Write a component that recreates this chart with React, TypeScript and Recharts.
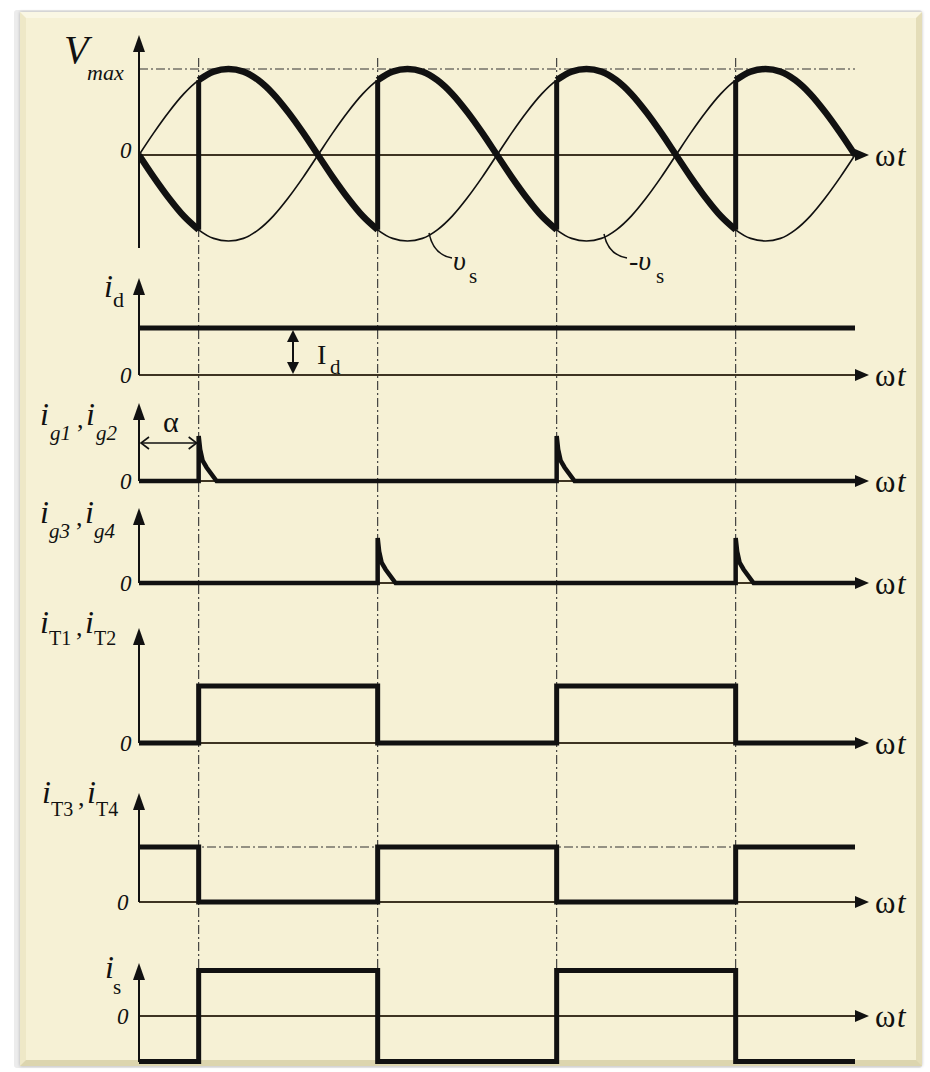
import React from 'react';
import { LineChart, Line, XAxis, YAxis, ReferenceLine } from 'recharts';

// ---- waveform samples (electrical degrees, two supply cycles) ----
const DEG = [
  0, 15, 30, 45, 60, 75, 90, 105, 120, 135, 150, 165, 180, 195, 210, 225, 240, 255, 270, 285, 300, 315, 330, 345,
  360, 375, 390, 405, 420, 435, 450, 465, 480, 495, 510, 525, 540, 555, 570, 585, 600, 615, 630, 645, 660, 675, 690, 705, 720,
];
const VS = [
  0, 0.26, 0.5, 0.71, 0.87, 0.97, 1, 0.97, 0.87, 0.71, 0.5, 0.26, 0, -0.26, -0.5, -0.71, -0.87, -0.97, -1, -0.97, -0.87, -0.71, -0.5, -0.26,
  0, 0.26, 0.5, 0.71, 0.87, 0.97, 1, 0.97, 0.87, 0.71, 0.5, 0.26, 0, -0.26, -0.5, -0.71, -0.87, -0.97, -1, -0.97, -0.87, -0.71, -0.5, -0.26, 0,
];
const NEG_VS = [
  0, -0.26, -0.5, -0.71, -0.87, -0.97, -1, -0.97, -0.87, -0.71, -0.5, -0.26, 0, 0.26, 0.5, 0.71, 0.87, 0.97, 1, 0.97, 0.87, 0.71, 0.5, 0.26,
  0, -0.26, -0.5, -0.71, -0.87, -0.97, -1, -0.97, -0.87, -0.71, -0.5, -0.26, 0, 0.26, 0.5, 0.71, 0.87, 0.97, 1, 0.97, 0.87, 0.71, 0.5, 0.26, 0,
];

// conduction intervals (firing angle alpha = 60°)
const T12_ON = [[60, 240], [420, 600]];
const T34_ON = [[0, 60], [240, 420], [600, 720]];
const COMMUTATIONS = [60, 240, 420, 600];

// gate pulses
const G12_FIRE = [60, 420];
const G34_FIRE = [240, 600];
const PULSE_DT = [0, 0, 1.5, 4, 8, 18];
const PULSE_V = [0, 1, 0.7, 0.45, 0.3, 0];

// step currents, per unit
const EDGES = [0, 60, 240, 420, 600, 720];
const I_T12 = [0, 1, 0, 1, 0, 0];
const I_T34 = [1, 0, 1, 0, 1, 1];
const I_S = [-1, 1, -1, 1, -1, -1];
const I_D = [1, 1];
const I_D_EDGES = [0, 720];

// ---- layout ----
const W = 930;
const H = 1072;
const X_LEFT = 139;
const X_RIGHT = 855;

type Panel = { id: string; zero: number; scale: number; tip: number; bottom: number };
const PANELS: Panel[] = [
  { id: 'v', zero: 155, scale: 86, tip: 35, bottom: 248 },
  { id: 'id', zero: 375, scale: 47, tip: 278, bottom: 375 },
  { id: 'g12', zero: 481, scale: 45, tip: 403, bottom: 481 },
  { id: 'g34', zero: 583, scale: 45, tip: 508, bottom: 583 },
  { id: 't12', zero: 743, scale: 57, tip: 628, bottom: 743 },
  { id: 't34', zero: 902, scale: 55, tip: 793, bottom: 902 },
  { id: 'is', zero: 1016, scale: 45.5, tip: 963, bottom: 1062 },
];
const panel = (id: string) => PANELS.find((p) => p.id === id)!;
const unitsAt = (p: Panel, px: number) => (p.zero - px) / p.scale;
const domainOf = (p: Panel): [number, number] => [(p.zero - H) / p.scale, p.zero / p.scale];

const inside = (d: number, spans: number[][]) => spans.some(([a, b]) => d >= a && d <= b);

const sineRows = DEG.map((d, i) => ({
  deg: d,
  vs: VS[i],
  nvs: NEG_VS[i],
  voA: inside(d, T12_ON) ? VS[i] : null,
  voB: inside(d, T34_ON) ? NEG_VS[i] : null,
}));

const jumps = COMMUTATIONS.map((e) => {
  const r = sineRows.find((row) => row.deg === e)!;
  const lowFirst = G12_FIRE.includes(e);
  return lowFirst
    ? [{ deg: e, v: r.voB }, { deg: e, v: r.voA }]
    : [{ deg: e, v: r.voA }, { deg: e, v: r.voB }];
});

const steps = (edges: number[], vals: number[]) => edges.map((d, i) => ({ deg: d, v: vals[i] }));

const gateSeries = (fires: number[]) => [
  { deg: 0, v: 0 },
  ...fires.flatMap((f) => PULSE_DT.map((dt, i) => ({ deg: f + dt, v: PULSE_V[i] }))),
  { deg: 720, v: 0 },
];

const INK = '#111';
const AXIS = '#3e3422';
const DASHDOT = '9 3 2 3';
const SERIF = "'Liberation Serif', 'DejaVu Serif', 'Noto Serif', serif";
const PX_PER_DEG = (X_RIGHT - X_LEFT) / 720;
const xPx = (deg: number) => X_LEFT + deg * PX_PER_DEG;

const T: React.FC<{ x: number; y: number; size: number; italic?: boolean; children: React.ReactNode }> = ({ x, y, size, italic, children }) => (
  <text x={x} y={y} style={{ fontFamily: SERIF, fontSize: size, fontStyle: italic ? 'italic' : 'normal' }} fill={INK}>
    {children}
  </text>
);

const thin = { dot: false, activeDot: false, isAnimationActive: false, stroke: INK } as const;

const App: React.FC = () => {
  const vP = panel('v');
  return (
    <div style={{ position: 'absolute', left: 0, top: 0, width: W, height: H, background: '#fff', overflow: 'hidden' }}>
      {/* framed cream panel */}
      <div
        style={{
          position: 'absolute', left: 14, top: 10, width: 908, height: 1058,
          background: '#ececec', borderRadius: 3,
        }}
      />
      <div
        style={{
          position: 'absolute', left: 20, top: 12, width: 890, height: 1042,
          background: '#f6f1d5',
          borderTop: '6px solid #faf7e4', borderLeft: '6px solid #eee8c7',
          borderRight: '6px solid #e4ddb8', borderBottom: '6px solid #dcd5ae',
          boxShadow: '0 0 3px rgba(0,0,0,0.25)',
        }}
      />

      <div style={{ position: 'absolute', left: 0, top: 0 }}>
        <LineChart width={W} height={H} margin={{ top: 0, right: W - X_RIGHT, bottom: 0, left: X_LEFT }}>
          <XAxis type="number" dataKey="deg" domain={[0, 720]} allowDataOverflow hide />
          {PANELS.map((p) => (
            <YAxis key={p.id} yAxisId={p.id} type="number" domain={domainOf(p)} allowDataOverflow hide />
          ))}

          {/* alpha markers */}
          {COMMUTATIONS.map((e) => (
            <ReferenceLine
              key={`a${e}`}
              yAxisId="v"
              segment={[{ x: e, y: unitsAt(vP, 58) }, { x: e, y: unitsAt(vP, 971) }]}
              stroke="#333"
              strokeWidth={1.1}
              strokeDasharray={DASHDOT}
            />
          ))}

          {/* Vmax and iT3,iT4 level guides */}
          <ReferenceLine yAxisId="v" segment={[{ x: 0, y: 1 }, { x: 720, y: 1 }]} stroke="#333" strokeWidth={1.1} strokeDasharray={DASHDOT} />
          <ReferenceLine yAxisId="t34" segment={[{ x: 0, y: 1 }, { x: 720, y: 1 }]} stroke="#333" strokeWidth={1.1} strokeDasharray={DASHDOT} />

          {/* time axes and vertical axes */}
          {PANELS.map((p) => (
            <ReferenceLine key={`z${p.id}`} yAxisId={p.id} y={0} stroke={AXIS} strokeWidth={2} />
          ))}
          {PANELS.map((p) => (
            <ReferenceLine
              key={`y${p.id}`}
              yAxisId={p.id}
              segment={[{ x: 0, y: unitsAt(p, p.bottom) }, { x: 0, y: unitsAt(p, p.tip + 10) }]}
              stroke={INK}
              strokeWidth={2}
            />
          ))}

          {/* supply voltage and its inverse */}
          <Line {...thin} yAxisId="v" data={sineRows} dataKey="vs" type="monotone" strokeWidth={1.7} />
          <Line {...thin} yAxisId="v" data={sineRows} dataKey="nvs" type="monotone" strokeWidth={1.7} />
          {/* output voltage */}
          <Line {...thin} yAxisId="v" data={sineRows} dataKey="voA" type="monotone" strokeWidth={6.5} connectNulls={false} />
          <Line {...thin} yAxisId="v" data={sineRows} dataKey="voB" type="monotone" strokeWidth={6.5} connectNulls={false} />
          {jumps.map((j, i) => (
            <Line key={`j${i}`} {...thin} yAxisId="v" data={j} dataKey="v" type="linear" strokeWidth={5} />
          ))}

          <Line {...thin} yAxisId="id" data={steps(I_D_EDGES, I_D)} dataKey="v" type="linear" strokeWidth={5} />
          <Line {...thin} yAxisId="g12" data={gateSeries(G12_FIRE)} dataKey="v" type="linear" strokeWidth={4.5} strokeLinejoin="miter" />
          <Line {...thin} yAxisId="g34" data={gateSeries(G34_FIRE)} dataKey="v" type="linear" strokeWidth={4.5} strokeLinejoin="miter" />
          <Line {...thin} yAxisId="t12" data={steps(EDGES, I_T12)} dataKey="v" type="stepAfter" strokeWidth={5} strokeLinejoin="miter" />
          <Line {...thin} yAxisId="t34" data={steps(EDGES, I_T34)} dataKey="v" type="stepAfter" strokeWidth={5} strokeLinejoin="miter" />
          <Line {...thin} yAxisId="is" data={steps(EDGES, I_S)} dataKey="v" type="stepAfter" strokeWidth={5} strokeLinejoin="miter" />
        </LineChart>
      </div>

      {/* arrows and labels */}
      <svg width={W} height={H} style={{ position: 'absolute', left: 0, top: 0, pointerEvents: 'none' }}>
        {PANELS.map((p) => (
          <g key={p.id}>
            <polygon points={`${X_LEFT - 6},${p.tip + 17} ${X_LEFT},${p.tip} ${X_LEFT + 6},${p.tip + 17}`} fill={INK} />
            <polygon points={`${X_RIGHT},${p.zero - 6} ${X_RIGHT + 14},${p.zero} ${X_RIGHT},${p.zero + 6}`} fill={INK} />
            <T x={875} y={p.zero + 11} size={31}>ω</T>
            <T x={897} y={p.zero + 11} size={31} italic>t</T>
          </g>
        ))}

        {/* zero labels */}
        {PANELS.map((p) => (
          <T key={`0${p.id}`} x={p.id === 't34' || p.id === 'is' ? 117 : 120} y={p.zero + (p.id === 'v' ? 3 : 8)} size={23} italic>0</T>
        ))}

        {/* voltage panel */}
        <T x={64} y={63} size={40} italic>V</T>
        <T x={87} y={80} size={22} italic>max</T>
        <path d="M 429 233 C 432 248, 440 256, 452 258" stroke={INK} strokeWidth={1.5} fill="none" />
        <T x={453} y={270} size={28} italic>υ</T>
        <T x={469} y={283} size={21}>s</T>
        <path d="M 604 234 C 607 249, 615 256, 627 258" stroke={INK} strokeWidth={1.5} fill="none" />
        <T x={629} y={270} size={28} italic>-υ</T>
        <T x={656} y={283} size={21}>s</T>

        {/* load current */}
        <T x={104} y={297} size={32} italic>i</T>
        <T x={113} y={307} size={22}>d</T>
        <line x1={293} y1={338} x2={293} y2={365} stroke={INK} strokeWidth={2} />
        <polygon points={`287,342 293,330 299,342`} fill={INK} />
        <polygon points={`287,362 293,374 299,362`} fill={INK} />
        <T x={317} y={364} size={28}>I</T>
        <T x={330} y={374} size={21}>d</T>

        {/* gate currents */}
        <T x={40} y={425} size={32} italic>i</T>
        <T x={50} y={440} size={21} italic>g1</T>
        <T x={77} y={428} size={26}>,</T>
        <T x={86} y={425} size={32} italic>i</T>
        <T x={96} y={440} size={21} italic>g2</T>
        <T x={163} y={432} size={30}>α</T>
        <line x1={141} y1={443} x2={xPx(60) - 2} y2={443} stroke={INK} strokeWidth={1.6} />
        <polyline points={`149,437 141,443 149,449`} stroke={INK} strokeWidth={1.6} fill="none" />
        <polyline points={`${xPx(60) - 10},437 ${xPx(60) - 2},443 ${xPx(60) - 10},449`} stroke={INK} strokeWidth={1.6} fill="none" />

        <T x={40} y={523} size={32} italic>i</T>
        <T x={49} y={538} size={21} italic>g3</T>
        <T x={76} y={526} size={26}>,</T>
        <T x={85} y={523} size={32} italic>i</T>
        <T x={94} y={538} size={21} italic>g4</T>

        {/* thyristor currents */}
        <T x={40} y={633} size={32} italic>i</T>
        <T x={49} y={645} size={20}>T1</T>
        <T x={76} y={636} size={26}>,</T>
        <T x={85} y={633} size={32} italic>i</T>
        <T x={94} y={645} size={20}>T2</T>

        <T x={42} y={803} size={32} italic>i</T>
        <T x={51} y={816} size={20}>T3</T>
        <T x={78} y={806} size={26}>,</T>
        <T x={87} y={803} size={32} italic>i</T>
        <T x={96} y={816} size={20}>T4</T>

        {/* supply current */}
        <T x={105} y={978} size={32} italic>i</T>
        <T x={113} y={994} size={21}>s</T>
      </svg>
    </div>
  );
};

export default App;
